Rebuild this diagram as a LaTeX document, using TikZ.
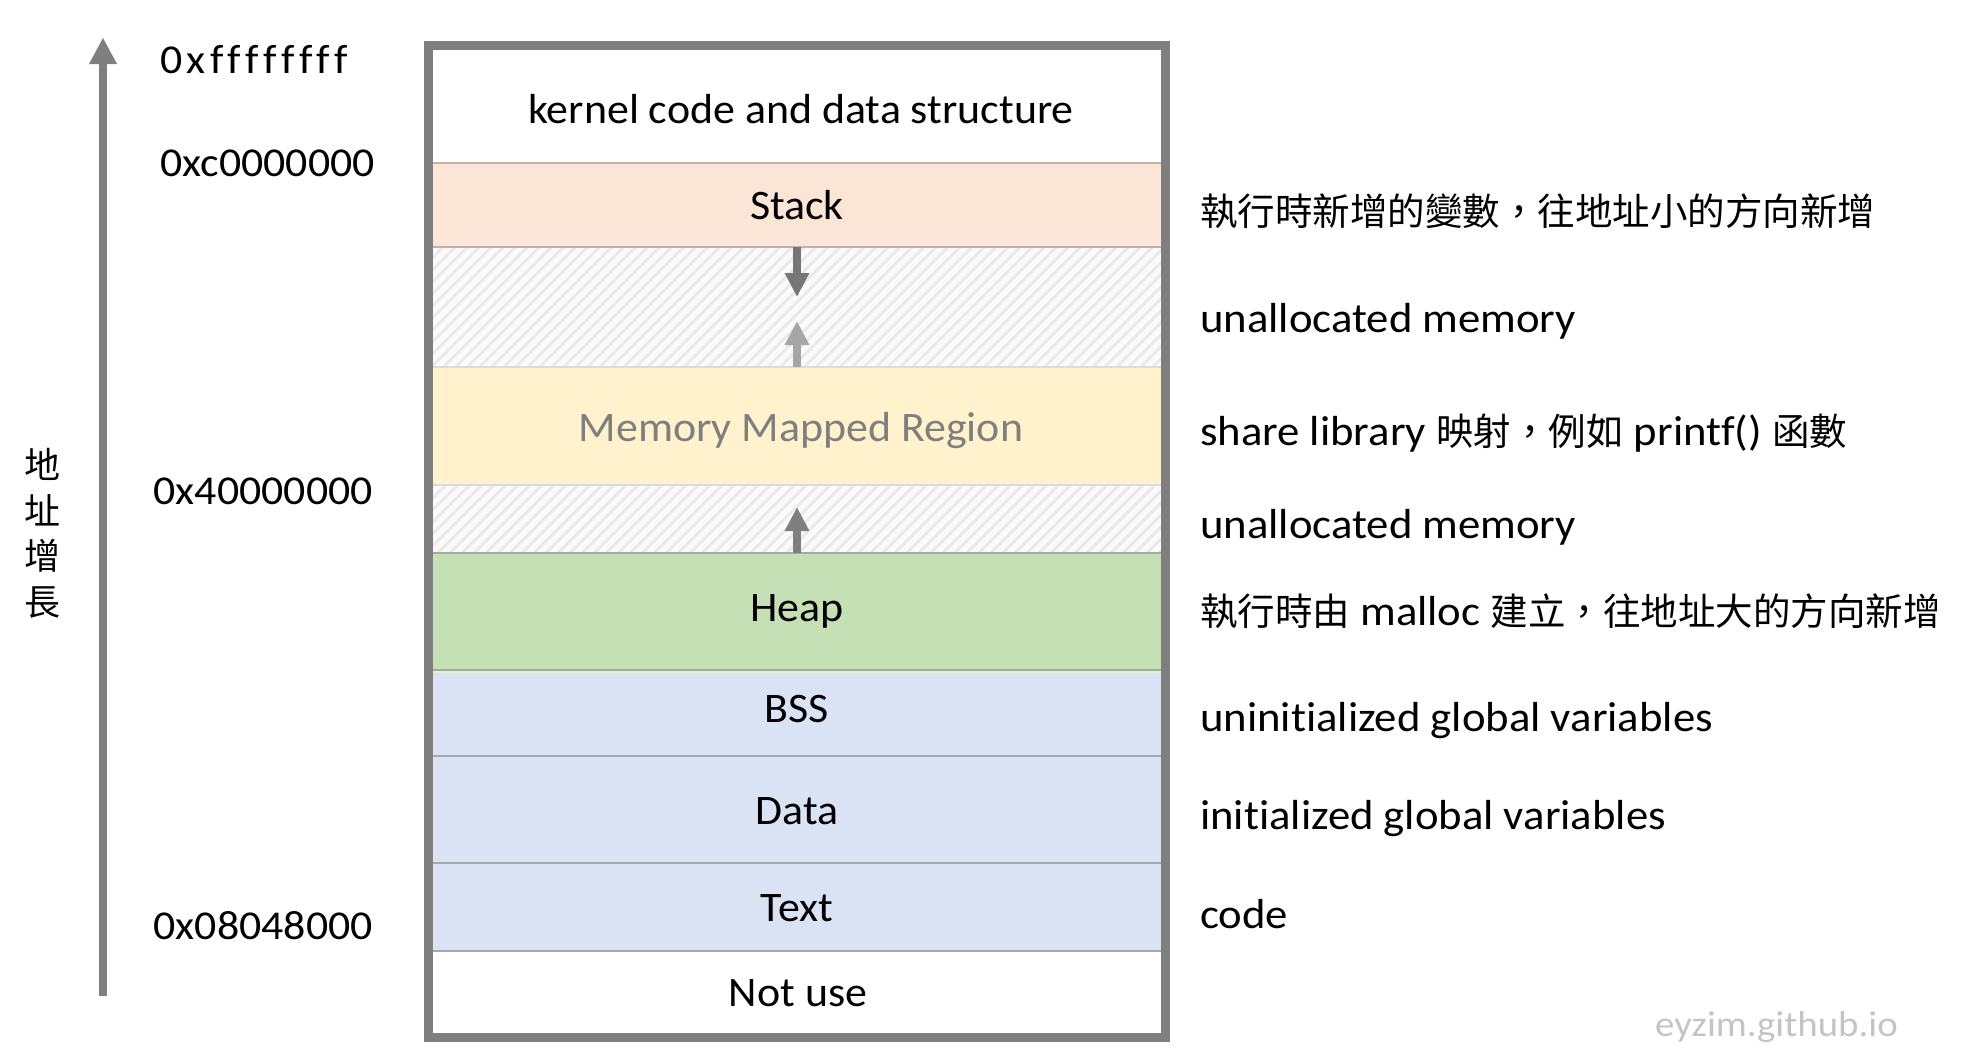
\documentclass[tikz,border=0pt]{standalone}
\usepackage{fontspec}
\setmainfont{Carlito}
\newfontfamily\latf[FakeStretch=1.045,Ligatures={NoCommon}]{Carlito}
\newfontfamily\rlatf[FakeStretch=1.065,Ligatures={NoCommon}]{Carlito}
\newfontfamily\addrf[FakeStretch=1.07,Ligatures={NoCommon}]{Carlito}
\newfontfamily\wmfont[FakeStretch=1.08]{Carlito}
\newfontfamily\cjk{Noto Sans CJK TC}
\usetikzlibrary{patterns.meta,arrows.meta}
\definecolor{stackc}{HTML}{FBE5D6}
\definecolor{mmrc}{HTML}{FFF2CC}
\definecolor{heapc}{HTML}{C5E0B4}
\definecolor{heapstrip}{HTML}{E2F0D9}
\definecolor{bluec}{HTML}{DAE3F3}
\definecolor{hatchbg}{HTML}{FBFBFB}
\definecolor{hatchc}{HTML}{EAEAEA}
\definecolor{boxc}{HTML}{7F7F7F}
\definecolor{stackln}{HTML}{C4B0A6}
\definecolor{lightln}{HTML}{DCDCDC}
\definecolor{heapln}{HTML}{A6A6A6}
\definecolor{heapbln}{HTML}{9EAE96}
\definecolor{blueln}{HTML}{A3A8B3}
\definecolor{arrdown}{HTML}{767676}
\definecolor{arrupa}{HTML}{A6A6A6}
\definecolor{arrupb}{HTML}{7F7F7F}
\definecolor{mmrtext}{HTML}{7F7F7F}
\definecolor{wmc}{HTML}{C4C4C4}
\newcommand\cj[1]{{\cjk\fontsize{37.5}{45}\selectfont #1}}
\newcommand\gp{\hspace{4.4pt}}
\begin{document}
\begin{tikzpicture}[x=1pt,y=-1pt,
  region/.style={draw=none, inner sep=0, outer sep=0, minimum width=728, anchor=north west},
  hatch/.style={preaction={fill=hatchbg}, pattern={Lines[angle=45,distance=8.5pt,line width=3pt]}, pattern color=hatchc},
  boxlab/.style={font=\latf\fontsize{42}{50}\selectfont, inner sep=0, anchor=base},
  addr/.style={font=\addrf\fontsize{41}{50}\selectfont, inner sep=0, anchor=base west},
  rlab/.style={font=\rlatf\fontsize{42}{50}\selectfont, inner sep=0, anchor=base west},
  vlab/.style={font=\cjk\fontsize{36}{45}\selectfont, inner sep=0, anchor=base},
  sep/.style={line width=2pt},
  growarrow/.style={line width=8pt, -{Triangle[length=24pt,width=23pt]}}
]
\useasboundingbox (0,0) rectangle (1962,1063);

% regions
\node[region, fill=white, minimum height=112.5] (kernel) at (433,50) {};
\node[region, fill=stackc, minimum height=84.5] (stack) at (433,162.5) {};
\node[region, hatch, minimum height=120] (un1) at (433,247) {};
\node[region, fill=mmrc, minimum height=118] (mmr) at (433,367) {};
\node[region, hatch, minimum height=68] (un2) at (433,485) {};
\node[region, fill=heapc, minimum height=117] (heap) at (433,553) {};
\node[region, fill=heapstrip, minimum height=3] (strip) at (433,670) {};
\node[region, fill=bluec, minimum height=83] (bss) at (433,673) {};
\node[region, fill=bluec, minimum height=107] (data) at (433,756) {};
\node[region, fill=bluec, minimum height=88] (text) at (433,863) {};
\node[region, fill=white, minimum height=82] (notuse) at (433,951) {};

% separators
\draw[sep, stackln] (kernel.south west) -- (kernel.south east);
\draw[sep, stackln] (stack.south west) -- (stack.south east);
\draw[sep, lightln] (un1.south west) -- (un1.south east);
\draw[sep, lightln] (mmr.south west) -- (mmr.south east);
\draw[sep, heapln, line width=2.5pt] (un2.south west) -- (un2.south east);
\draw[sep, heapbln, line width=2.5pt] (heap.south west) -- (heap.south east);
\draw[sep, blueln] (bss.south west) -- (bss.south east);
\draw[sep, blueln] (data.south west) -- (data.south east);
\draw[sep, blueln, line width=1.5pt] (text.south west) -- (text.south east);

% growth arrows inside the box
\coordinate (d0) at (797,247);
\coordinate (d1) at (797,297);
\coordinate (u0) at (797,367);
\coordinate (u1) at (797,321);
\coordinate (h0) at (797,553);
\coordinate (h1) at (797,507);
\draw[growarrow, arrdown] (d0) -- (d1);
\draw[growarrow, arrupa] (u0) -- (u1);
\draw[growarrow, arrupb] (h0) -- (h1);

% outer frame
\node[draw=boxc, line width=9pt, inner sep=0, outer sep=0, minimum width=737, minimum height=992, anchor=north west] (frame) at (428.5,45.5) {};

% box labels
\node[boxlab] (tkernel) at (801,123) {kernel code and data structure};
\node[boxlab] (tstack) at (797,219.6) {Stack};
\node[boxlab, text=mmrtext] (tmmr) at (801,441) {Memory Mapped Region};
\node[boxlab] (theap) at (797,621.7) {Heap};
\node[boxlab] (tbss) at (797,722.6) {BSS};
\node[boxlab] (tdata) at (797,824.7) {Data};
\node[boxlab] (ttext) at (797,921.7) {Text};
\node[boxlab] (tnot) at (798,1006.5) {Not use};

% address axis
\coordinate (ax0) at (103,996);
\coordinate (ax1) at (103,37.5);
\draw[line width=8pt, boxc, -{Triangle[length=26.5pt,width=26pt]}] (ax0) -- (ax1);
\node[addr] (aff) at (160,73.3) {0\gp x\gp f\gp f\gp f\gp f\gp f\gp f\gp f\gp f};
\node[addr] (ac0) at (160,176.7) {0xc0000000};
\node[addr] (a40) at (153.5,504.6) {0x40000000};
\node[addr] (a08) at (153.5,939) {0x08048000};

\node[vlab] (g1) at (42,478.5) {地};
\node[vlab] (g2) at (42,524.1) {址};
\node[vlab] (g3) at (42,569.7) {增};
\node[vlab] (g4) at (42,615.3) {長};

% right descriptions
\node[rlab] (r1) at (1200,225) {\cj{執行時新增的變數，往地址小的方向新增}};
\node[rlab] (r2) at (1200,332) {unallocated memory};
\node[rlab] (r3) at (1200,445) {share library \cj{映射，例如} printf() \cj{函數}};
\node[rlab] (r4) at (1200,538) {unallocated memory};
\node[rlab] (r5) at (1200,625) {\cj{執行時由} malloc \cj{建立，往地址大的方向新增}};
\node[rlab] (r6) at (1200,731.5) {uninitialized global variables};
\node[rlab] (r7) at (1200,829) {initialized global variables};
\node[rlab] (r8) at (1200,928) {code};

\node[font=\wmfont\fontsize{36}{44}\selectfont, text=wmc, inner sep=0, anchor=base west] (wm) at (1655,1036) {eyzim.github.io};
\end{tikzpicture}
\end{document}
